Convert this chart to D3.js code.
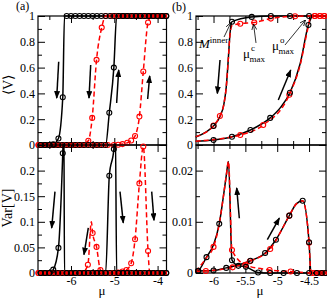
<!DOCTYPE html>
<html>
<head>
<meta charset="utf-8">
<script src="https://cdn.jsdelivr.net/npm/d3@7"></script>
<style>
  body { margin: 0; background: #fff; }
  svg { display: block; }
  text { font-family: "Liberation Serif", "Times New Roman", serif; fill: #000; }
</style>
</head>
<body>
<svg width="327" height="300"></svg>
<script>
// ---- data: [mu, value, showMarker(0 = line only)] ----
// panel (a), <V>
const aVBlackDown = [[-6.7,0],[-6.6,0],[-6.5,0],[-6.41,0.006],[-6.29,0.05],[-6.19,0.37],[-6.15,1,0],[-6.1,1],[-6.0,1],[-5.9,1],[-5.8,1],[-5.7,1],[-5.6,1],[-5.5,1],[-5.4,1],[-5.3,1],[-5.2,1],[-5.1,1],[-5.0,1],[-4.9,1],[-4.8,1],[-4.7,1],[-4.6,1],[-4.5,1],[-4.4,1],[-4.3,1],[-4.2,1],[-4.1,1],[-4.0,1],[-3.9,1],[-3.8,1]];
const aVBlackUp = [[-6.7,0],[-6.6,0],[-6.5,0],[-6.4,0],[-6.3,0],[-6.2,0],[-6.1,0],[-6.0,0],[-5.9,0],[-5.8,0],[-5.7,0],[-5.6,0],[-5.5,0],[-5.4,0],[-5.3,0],[-5.2,0],[-5.115,0.25],[-5.01,0.6],[-4.945,1,0],[-4.9,1],[-4.8,1],[-4.7,1],[-4.6,1],[-4.5,1],[-4.4,1],[-4.3,1],[-4.2,1],[-4.1,1],[-4.0,1],[-3.9,1],[-3.8,1]];
const aVRedDown = [[-6.75,0],[-6.65,0],[-6.55,0],[-6.45,0],[-6.35,0],[-6.25,0],[-6.15,0],[-6.05,0],[-5.95,0],[-5.85,0],[-5.75,0],[-5.6,0.033],[-5.51,0.21],[-5.41,0.66],[-5.29,0.91],[-5.2,1],[-5.05,1],[-4.95,1],[-4.85,1],[-4.75,1],[-4.65,1],[-4.55,1],[-4.45,1],[-4.35,1],[-4.25,1],[-4.15,1],[-4.05,1],[-3.95,1],[-3.85,1]];
const aVRedUp = [[-6.75,0],[-6.65,0],[-6.55,0],[-6.45,0],[-6.35,0],[-6.25,0],[-6.15,0],[-6.05,0],[-5.95,0],[-5.85,0],[-5.75,0],[-5.65,0],[-5.55,0],[-5.45,0],[-5.35,0],[-5.25,0],[-5.15,0],[-5.01,0],[-4.91,0.002],[-4.81,0.007],[-4.7,0.017],[-4.61,0.035],[-4.52,0.07],[-4.42,0.22],[-4.33,0.57],[-4.22,0.95],[-4.14,1],[-4.05,1],[-3.95,1],[-3.85,1]];

// panel (a), Var[V]
const aVarBlackDown = [[-6.7,0],[-6.6,0],[-6.5,0],[-6.41,0.0065],[-6.29,0.049],[-6.19,0.234],[-6.165,0.3,0],[-6.15,0,0],[-6.1,0],[-6.0,0],[-5.9,0],[-5.8,0],[-5.7,0],[-5.6,0],[-5.5,0],[-5.4,0],[-5.3,0],[-5.2,0],[-5.1,0],[-5.0,0],[-4.9,0],[-4.8,0],[-4.7,0],[-4.6,0],[-4.5,0],[-4.4,0],[-4.3,0],[-4.2,0],[-4.1,0],[-4.0,0],[-3.9,0],[-3.8,0]];
const aVarBlackUp = [[-6.7,0],[-6.6,0],[-6.5,0],[-6.4,0],[-6.3,0],[-6.2,0],[-6.1,0],[-6.0,0],[-5.9,0],[-5.8,0],[-5.7,0],[-5.6,0],[-5.5,0],[-5.4,0],[-5.3,0],[-5.2,0],[-5.115,0.19],[-5.01,0.242],[-4.975,0.28,0],[-4.945,0,0],[-4.9,0],[-4.8,0],[-4.7,0],[-4.6,0],[-4.5,0],[-4.4,0],[-4.3,0],[-4.2,0],[-4.1,0],[-4.0,0],[-3.9,0],[-3.8,0]];
const aVarRedDown = [[-6.75,0],[-6.65,0],[-6.55,0],[-6.45,0],[-6.35,0],[-6.25,0],[-6.15,0],[-6.05,0],[-5.95,0],[-5.85,0],[-5.75,0],[-5.61,0.016],[-5.53,0.1,0],[-5.5,0.078],[-5.41,0.051],[-5.32,0.006],[-5.2,0],[-5.05,0],[-4.95,0],[-4.85,0],[-4.75,0],[-4.65,0],[-4.55,0],[-4.45,0],[-4.35,0],[-4.25,0],[-4.15,0],[-4.05,0],[-3.95,0],[-3.85,0]];
const aVarRedUp = [[-6.75,0],[-6.65,0],[-6.55,0],[-6.45,0],[-6.35,0],[-6.25,0],[-6.15,0],[-6.05,0],[-5.95,0],[-5.85,0],[-5.75,0],[-5.65,0],[-5.55,0],[-5.45,0],[-5.35,0],[-5.25,0],[-5.15,0],[-5.01,0],[-4.91,0.001],[-4.81,0.003],[-4.72,0.006],[-4.61,0.019],[-4.52,0.066],[-4.42,0.175],[-4.33,0.247],[-4.22,0.043],[-4.18,0,0],[-4.14,0],[-4.05,0],[-3.95,0],[-3.85,0]];

// panel (b), <V>
const bVBlackDown = [[-6.28,0.062,0],[-6.12,0.1,0],[-6.0,0.147],[-5.9,0.22,0],[-5.84,0.31,0],[-5.8,0.45,0],[-5.77,0.65,0],[-5.74,0.87,0],[-5.71,0.956],[-5.4,0.993],[-5.1,1],[-4.8,1],[-4.5,1],[-4.23,1,0]];
const bVBlackUp = [[-6.28,0.03,0],[-6.0,0.039],[-5.71,0.064],[-5.42,0.116],[-5.11,0.21],[-4.95,0.29,0],[-4.8,0.405],[-4.64,0.63,0],[-4.51,0.93],[-4.44,1,0],[-4.23,1,0]];
const bVRedDown = [[-6.28,0.065,0],[-6.0,0.15],[-5.9,0.225],[-5.84,0.31,0],[-5.8,0.45,0],[-5.77,0.65,0],[-5.74,0.86,0],[-5.71,0.925,0],[-5.58,0.94],[-5.36,0.95],[-5.1,0.98],[-4.72,0.998],[-4.41,1],[-4.33,1],[-4.26,1],[-4.23,1,0]];
const bVRedUp = [[-6.28,0.03,0],[-5.58,0.078],[-5.22,0.155],[-4.81,0.39],[-4.64,0.62,0],[-4.52,0.9,0],[-4.47,1,0],[-4.41,1],[-4.33,1],[-4.26,1],[-4.23,1,0]];

// panel (b), Var[V]
const bVarBlackDown = [[-6.28,0.0003,0],[-6.24,0.00045],[-6.11,0.0031],[-6.0,0.0055,0],[-5.91,0.0096],[-5.85,0.0145,0],[-5.8,0.019,0],[-5.765,0.0218,0],[-5.71,0.0025],[-5.61,0.0014],[-5.49,0.0012],[-5.3,0.0001],[-5.11,0],[-4.9,0],[-4.69,0],[-4.5,0],[-4.23,0,0]];
const bVarBlackUp = [[-6.28,0.0003,0],[-6.24,0.0004],[-6.0,0.0005],[-5.8,0.001],[-5.6,0.0016,0],[-5.42,0.0024],[-5.19,0.0039],[-5.02,0.0065],[-4.81,0.0112],[-4.7,0.0135,0],[-4.6,0.0141],[-4.5,0.006],[-4.47,0,0],[-4.38,0],[-4.3,0],[-4.24,0]];
const bVarRedDown = [[-6.28,0.0003,0],[-6.11,0.003,0],[-6.0,0.0051],[-5.91,0.0096,0],[-5.85,0.0145,0],[-5.8,0.019,0],[-5.765,0.0218,0],[-5.71,0.0045],[-5.5,0.0016],[-5.12,0.0006],[-4.79,0.0003],[-4.45,0],[-4.37,0],[-4.29,0],[-4.23,0,0]];
const bVarRedUp = [[-6.28,0.0003,0],[-6.12,0.0004],[-5.7,0.0011],[-5.43,0.0023],[-5.11,0.0047],[-4.81,0.0112],[-4.7,0.0135,0],[-4.6,0.0141,0],[-4.5,0.0059],[-4.47,0,0],[-4.41,0],[-4.33,0],[-4.26,0]];

// ticks
const aXMajor = [-6, -5, -4];
const aXMinor = [-6.5, -5.5, -4.5];
const bXMajor = [-6, -5.5, -5, -4.5];
const bXMinor = [-6.25, -5.75, -5.25, -4.75];
const vMajor = [0, 0.2, 0.4, 0.6, 0.8, 1];
const vMinor = [0.1, 0.3, 0.5, 0.7, 0.9];
const aVarMajor = [0, 0.05, 0.1, 0.15, 0.2, 0.25];
const aVarMinor = [0.025, 0.075, 0.125, 0.175, 0.225];
const aVarLabels = [0, 0.05, 0.1, 0.15, 0.2];
const bVarMajor = [0, 0.01, 0.02];
const bVarMinor = [0.005, 0.015, 0.025];

// arrows: [mu0, val0, mu1, val1] (tail -> head)
const aVArrows = [[-6.284,0.646,-6.33,0.364],[-5.545,0.62,-5.584,0.364],[-4.945,0.326,-4.898,0.581],[-4.229,0.357,-4.182,0.535]];
const aVarArrows = [[-6.37,0.159,-6.446,0.088],[-5.6,0.088,-5.7,0.036],[-4.868,0.159,-4.792,0.098],[-4.136,0.159,-4.083,0.103]];
const bVArrows = [[-5.898,0.659,-5.94,0.40],[-4.983,0.349,-4.788,0.581]];
const bVarArrows = [[-5.595,0.0107,-5.636,0.0166],[-5.155,0.0065,-4.967,0.0107]];
const bVPointers = [[-5.835,0.837,-5.725,0.95],[-5.333,0.791,-5.372,0.938],[-4.878,0.775,-4.556,0.969]];

const svg = d3.select("svg");

const defs = svg.append("defs");
defs.append("marker").attr("id", "head")
  .attr("viewBox", "0 0 8 6").attr("refX", 7).attr("refY", 3)
  .attr("markerWidth", 8).attr("markerHeight", 6)
  .attr("markerUnits", "userSpaceOnUse").attr("orient", "auto")
  .append("path").attr("d", "M0,0 L8,3 L0,6 z").attr("fill", "black");
defs.append("marker").attr("id", "thinhead")
  .attr("viewBox", "0 0 6 6").attr("refX", 6).attr("refY", 3)
  .attr("markerWidth", 6).attr("markerHeight", 6)
  .attr("markerUnits", "userSpaceOnUse").attr("orient", "auto")
  .append("path").attr("d", "M0,0.5 L6,3 L0,5.5").attr("fill", "none")
  .attr("stroke", "black").attr("stroke-width", 0.8);

const fmt = d => String(d);

function drawPanel(p) {
  const x = d3.scaleLinear().domain(p.xDom).range([p.left, p.right]);
  const y = d3.scaleLinear().domain(p.yDom).range([p.bottom, p.top]);
  const g = svg.append("g");

  defs.append("clipPath").attr("id", "clip-" + p.name)
    .append("rect")
    .attr("x", p.left - 1.5).attr("y", p.top - 1.5)
    .attr("width", p.right - p.left + 3).attr("height", p.bottom - p.top + 3);

  // ticks on all four sides, pointing inward
  const sides = [
    [d3.axisBottom, x, `translate(0,${p.bottom})`, p.xLabels ? p.xMajor : []],
    [d3.axisTop, x, `translate(0,${p.top})`, []],
    [d3.axisLeft, y, `translate(${p.left},0)`, p.yLabels],
    [d3.axisRight, y, `translate(${p.right},0)`, []]
  ];
  sides.forEach(([axisFn, sc, tr, labels]) => {
    const isX = sc === x;
    const major = isX ? p.xMajor : p.yMajor;
    const minor = isX ? p.xMinor : p.yMinor;
    const ax = g.append("g").attr("transform", tr)
      .call(axisFn(sc).tickValues(major).tickSizeInner(-7).tickSizeOuter(0).tickPadding(3)
        .tickFormat(d => labels.includes(d) ? fmt(d) : ""));
    ax.select(".domain").remove();
    ax.selectAll("text").style("font-size", "12px").style("font-family", '"Liberation Serif", serif');
    const mi = g.append("g").attr("transform", tr)
      .call(axisFn(sc).tickValues(minor).tickSizeInner(-4).tickSizeOuter(0).tickFormat(""));
    mi.select(".domain").remove();
  });
  g.selectAll(".tick line").attr("stroke-width", 1);

  g.append("rect")
    .attr("x", p.left).attr("y", p.top)
    .attr("width", p.right - p.left).attr("height", p.bottom - p.top)
    .attr("fill", "none").attr("stroke", "black").attr("stroke-width", 1.2);

  const line = d3.line()
    .x(d => x(d[0])).y(d => y(d[1]))
    .curve(d3.curveMonotoneX);

  const lines = g.append("g").attr("clip-path", `url(#clip-${p.name})`);
  const order = p.series.filter(s => s.color === "black").concat(p.series.filter(s => s.color !== "black"));
  order.forEach(s => {
    lines.append("path")
      .attr("d", line(s.data))
      .attr("fill", "none")
      .attr("stroke", s.color)
      .attr("stroke-width", 1.5)
      .attr("stroke-dasharray", s.dash ? "5,3" : null);
  });

  const marks = g.append("g");
  p.series.filter(s => s.color !== "black").concat(p.series.filter(s => s.color === "black"))
    .forEach(s => {
      marks.selectAll(null)
        .data(s.data.filter(d => d[2] !== 0))
        .enter()
        .append("circle")
        .attr("cx", d => x(d[0]))
        .attr("cy", d => y(d[1]))
        .attr("r", 2.5)
        .attr("fill", "none")
        .attr("stroke", s.color)
        .attr("stroke-width", 1.1);
    });

  // thick arrows
  g.selectAll(null)
    .data(p.arrows)
    .enter()
    .append("line")
    .attr("x1", d => x(d[0])).attr("y1", d => y(d[1]))
    .attr("x2", d => x(d[2])).attr("y2", d => y(d[3]))
    .attr("stroke", "black").attr("stroke-width", 1.5)
    .attr("marker-end", "url(#head)");

  if (p.pointers) {
    g.selectAll(null)
      .data(p.pointers)
      .enter()
      .append("line")
      .attr("x1", d => x(d[0])).attr("y1", d => y(d[1]))
      .attr("x2", d => x(d[2])).attr("y2", d => y(d[3]))
      .attr("stroke", "black").attr("stroke-width", 0.8)
      .attr("marker-end", "url(#thinhead)");
  }
  return { x, y, g };
}

const aLeft = 38, aRight = 166.5, bLeft = 196, bRight = 326;
const topY = 16, midY = 145, botY = 273;
const aXDom = [-6.762, -3.794];
const bXDom = [-6.275, -4.234];

drawPanel({
  name: "aV", left: aLeft, right: aRight, top: topY, bottom: midY,
  xDom: aXDom, yDom: [0, 1], xMajor: aXMajor, xMinor: aXMinor, xLabels: false,
  yMajor: vMajor, yMinor: vMinor, yLabels: vMajor,
  series: [
    { data: aVBlackDown, color: "black" }, { data: aVBlackUp, color: "black" },
    { data: aVRedDown, color: "red", dash: true }, { data: aVRedUp, color: "red", dash: true }
  ],
  arrows: aVArrows
});
drawPanel({
  name: "aVar", left: aLeft, right: aRight, top: midY, bottom: botY,
  xDom: aXDom, yDom: [0, 0.25], xMajor: aXMajor, xMinor: aXMinor, xLabels: true,
  yMajor: aVarMajor, yMinor: aVarMinor, yLabels: aVarLabels,
  series: [
    { data: aVarBlackDown, color: "black" }, { data: aVarBlackUp, color: "black" },
    { data: aVarRedDown, color: "red", dash: true }, { data: aVarRedUp, color: "red", dash: true }
  ],
  arrows: aVarArrows
});
const pb = drawPanel({
  name: "bV", left: bLeft, right: bRight, top: topY, bottom: midY,
  xDom: bXDom, yDom: [0, 1], xMajor: bXMajor, xMinor: bXMinor, xLabels: false,
  yMajor: vMajor, yMinor: vMinor, yLabels: vMajor,
  series: [
    { data: bVBlackDown, color: "black" }, { data: bVBlackUp, color: "black" },
    { data: bVRedDown, color: "red", dash: true }, { data: bVRedUp, color: "red", dash: true }
  ],
  arrows: bVArrows, pointers: bVPointers
});
drawPanel({
  name: "bVar", left: bLeft, right: bRight, top: midY, bottom: botY,
  xDom: bXDom, yDom: [0, 0.025], xMajor: bXMajor, xMinor: bXMinor, xLabels: true,
  yMajor: bVarMajor, yMinor: bVarMinor, yLabels: bVarMajor,
  series: [
    { data: bVarBlackDown, color: "black" }, { data: bVarBlackUp, color: "black" },
    { data: bVarRedDown, color: "red", dash: true }, { data: bVarRedUp, color: "red", dash: true }
  ],
  arrows: bVarArrows
});

// annotations in panel (b)
const ann = pb.g.append("g");
const mIn = ann.append("text").attr("x", pb.x(-6.228)).attr("y", pb.y(0.752)).style("font-size", "13px");
mIn.append("tspan").text("M").style("font-style", "italic");
mIn.append("tspan").attr("dy", -5).style("font-size", "9px").text("inner");

[[-5.537, 0.674, "c"], [-5.082, 0.736, "o"]].forEach(([mu, v, sup]) => {
  const x0 = pb.x(mu), y0 = pb.y(v);
  const t = ann.append("text").attr("x", x0).attr("y", y0).style("font-size", "13px");
  t.append("tspan").text("μ");
  t.append("tspan").attr("x", x0 + 8).attr("dy", -7).style("font-size", "9px").text(sup);
  t.append("tspan").attr("x", x0 + 6.5).attr("dy", 11).style("font-size", "9px").text("max");
});

// panel letters and axis titles
svg.append("text").attr("x", 16).attr("y", 10).style("font-size", "12px").text("(a)");
svg.append("text").attr("x", 172).attr("y", 10.5).style("font-size", "12px").text("(b)");
svg.append("text").attr("transform", "translate(13,85) rotate(-90)")
  .attr("text-anchor", "middle").style("font-size", "14px").text("⟨V⟩");
svg.append("text").attr("transform", "translate(12,208) rotate(-90)")
  .attr("text-anchor", "middle").style("font-size", "14px").text("Var[V]");
svg.append("text").attr("x", 102).attr("y", 295).attr("text-anchor", "middle").style("font-size", "13px").text("μ");
svg.append("text").attr("x", 260).attr("y", 295).attr("text-anchor", "middle").style("font-size", "13px").text("μ");
</script>
</body>
</html>
